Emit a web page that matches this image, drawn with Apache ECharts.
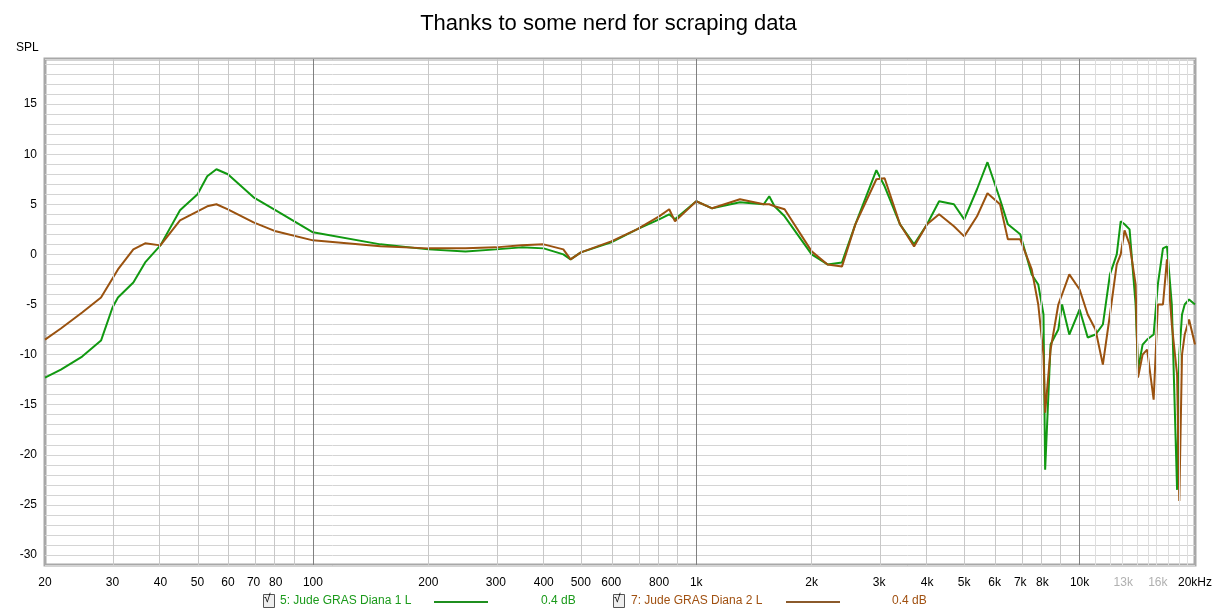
<!DOCTYPE html>
<html>
<head>
<meta charset="utf-8">
<script src="https://cdn.jsdelivr.net/npm/echarts@6/dist/echarts.min.js"></script>
<style>
  html, body { margin: 0; padding: 0; background: #fff; }
  #chart { width: 1217px; height: 616px; }
</style>
</head>
<body>
<div id="chart"></div>
<script>
// frequencies (Hz) and levels (dB)
var freqs = [20, 22, 25, 28, 30, 31, 34, 36.5, 40, 45, 50, 53, 56, 60, 70, 80, 100, 150, 200, 250, 300, 350, 400, 450, 470, 500, 600, 700, 800, 850, 880, 1000, 1100, 1300, 1500, 1550, 1600, 1700, 2000, 2200, 2400, 2600, 2950, 3100, 3400, 3700, 4000, 4300, 4700, 5000, 5400, 5750, 6200, 6500, 7000, 7500, 7800, 8050, 8130, 8400, 8800, 9000, 9400, 10000, 10500, 11000, 11500, 12000, 12500, 12800, 13100, 13500, 14000, 14200, 14600, 15000, 15600, 16000, 16500, 16900, 17400, 17960, 18200, 18500, 18800, 19300, 20000];
var diana1 = [-12.3, -11.5, -10.2, -8.6, -5.3, -4.3, -2.8, -0.8, 0.9, 4.4, 6.0, 7.8, 8.5, 8.0, 5.7, 4.4, 2.2, 1.0, 0.5, 0.3, 0.5, 0.7, 0.6, 0.0, -0.5, 0.2, 1.2, 2.5, 3.5, 4.0, 3.5, 5.3, 4.6, 5.2, 5.0, 5.8, 4.8, 3.8, 0.0, -1.0, -0.8, 3.0, 8.4, 6.8, 3.0, 1.0, 3.0, 5.3, 5.0, 3.5, 6.5, 9.2, 5.5, 3.0, 2.0, -2.0, -3.0, -6.0, -21.5, -9.0, -7.5, -5.0, -8.0, -5.5, -8.3, -8.0, -7.0, -2.0, 0.0, 3.3, 3.0, 2.5, -5.0, -11.5, -9.0, -8.5, -8.0, -3.0, 0.6, 0.8, -5.0, -23.5, -10.0, -6.0, -5.0, -4.5, -5.0];
var diana2 = [-8.5, -7.4, -5.8, -4.3, -2.4, -1.5, 0.5, 1.1, 0.9, 3.4, 4.3, 4.8, 5.0, 4.5, 3.2, 2.3, 1.4, 0.8, 0.6, 0.6, 0.7, 0.9, 1.0, 0.5, -0.5, 0.2, 1.3, 2.5, 3.8, 4.5, 3.3, 5.3, 4.6, 5.5, 5.0, 5.0, 4.8, 4.5, 0.3, -1.0, -1.2, 3.0, 7.5, 7.6, 3.0, 0.8, 3.0, 4.0, 2.8, 1.8, 3.8, 6.1, 5.0, 1.5, 1.5, -1.5, -5.0, -10.0, -15.8, -9.5, -5.0, -4.0, -2.0, -3.5, -6.0, -7.5, -11.0, -6.0, -1.0, 0.0, 2.4, 1.0, -3.0, -12.3, -10.0, -9.5, -14.5, -5.0, -5.0, -0.5, -7.0, -12.0, -24.6, -10.0, -8.0, -6.5, -9.0];

// tick labels on the frequency axis
var labelFreqs = [20, 30, 40, 50, 60, 70, 80, 100, 200, 300, 400, 500, 600, 800, 1000, 2000, 3000, 4000, 5000, 6000, 7000, 8000, 10000, 13000, 16000, 20000];
var labelTexts = ['20', '30', '40', '50', '60', '70', '80', '100', '200', '300', '400', '500', '600', '800', '1k', '2k', '3k', '4k', '5k', '6k', '7k', '8k', '10k', '13k', '16k', '20kHz'];
var splLabels = [-30, -25, -20, -15, -10, -5, 0, 5, 10, 15];

function lg(f) { return Math.log10(f); }

function pairs(vals) {
  return freqs.map(function(f, i) { return [lg(f), vals[i]]; });
}

// vertical grid lines
var gridLines = [];
[10, 100, 1000].forEach(function(d) {
  for (var k = 2; k <= 10; k++) {
    var f = k * d;
    if (f < 20) continue;
    var major = (f === 100 || f === 1000 || f === 10000);
    gridLines.push({ xAxis: lg(f), lineStyle: { color: major ? '#808080' : '#c8c8c8', width: 1, type: 'solid' } });
  }
});
for (var f = 11000; f < 20000; f += 1000) {
  gridLines.push({ xAxis: lg(f), lineStyle: { color: '#dedede', width: 1, type: 'solid' } });
}

var labelMap = {};
labelFreqs.forEach(function(f, i) { labelMap[lg(f).toFixed(5)] = labelTexts[i]; });

var chart = echarts.init(document.getElementById('chart'));
var option = {
  animation: false,
  title: {
    text: 'Thanks to some nerd for scraping data',
    left: 'center', top: 8,
    textStyle: { fontFamily: 'Liberation Sans', fontSize: 22, fontWeight: 'normal', color: '#000' }
  },
  grid: { left: 45, right: 22, top: 59, bottom: 51, show: true, borderColor: '#a8a8a8', borderWidth: 3, backgroundColor: '#fff' },
  xAxis: {
    type: 'value', min: lg(20), max: lg(20000),
    splitLine: { show: false },
    axisLine: { show: false },
    axisTick: { show: false },
    axisLabel: {
      customValues: labelFreqs.map(lg),
      formatter: function(v) { return labelMap[v.toFixed(5)] || ''; },
      color: function(v) { return (v > lg(11000) && v < lg(19000)) ? '#b0b0b0' : '#000'; },
      fontFamily: 'Liberation Sans Narrow, Liberation Sans', fontSize: 12, margin: 12
    }
  },
  yAxis: {
    type: 'value', min: -31, max: 19.5, interval: 1,
    splitLine: { lineStyle: { color: '#d4d4d4', width: 1 } },
    axisLine: { show: false },
    axisTick: { show: false },
    axisLabel: {
      customValues: splLabels,
      color: '#000', fontFamily: 'Liberation Sans', fontSize: 12, margin: 8
    }
  },
  graphic: [
    { type: 'text', left: 16, top: 42, style: { text: 'SPL', fontFamily: 'Liberation Sans', fontSize: 12, fill: '#000' } },
    { type: 'rect', left: 263, top: 594, shape: { width: 11, height: 13 }, style: { fill: '#eee', stroke: '#555' } },
    { type: 'text', left: 264, top: 593, style: { text: '\u221a', fontSize: 12, fill: '#000' } },
    { type: 'text', left: 280, top: 595, style: { text: '5: Jude GRAS Diana 1 L', fontFamily: 'Liberation Sans Narrow, Liberation Sans', fontSize: 12, fill: '#1a9a1a' } },
    { type: 'line', shape: { x1: 434, y1: 602, x2: 488, y2: 602 }, style: { stroke: '#1f8f1f', lineWidth: 2 } },
    { type: 'text', left: 541, top: 595, style: { text: '0.4 dB', fontFamily: 'Liberation Sans', fontSize: 12, fill: '#1a9a1a' } },
    { type: 'rect', left: 613, top: 594, shape: { width: 11, height: 13 }, style: { fill: '#eee', stroke: '#555' } },
    { type: 'text', left: 614, top: 593, style: { text: '\u221a', fontSize: 12, fill: '#000' } },
    { type: 'text', left: 631, top: 595, style: { text: '7: Jude GRAS Diana 2 L', fontFamily: 'Liberation Sans Narrow, Liberation Sans', fontSize: 12, fill: '#a05010' } },
    { type: 'line', shape: { x1: 786, y1: 602, x2: 840, y2: 602 }, style: { stroke: '#8b5a2b', lineWidth: 2 } },
    { type: 'text', left: 892, top: 595, style: { text: '0.4 dB', fontFamily: 'Liberation Sans', fontSize: 12, fill: '#a05010' } }
  ],
  series: [
    {
      name: 'grid', type: 'line', data: [], silent: true,
      markLine: { silent: true, symbol: 'none', label: { show: false }, data: gridLines, animation: false }
    },
    {
      name: '5: Jude GRAS Diana 1 L', type: 'line', data: pairs(diana1), showSymbol: false,
      lineStyle: { color: '#119911', width: 2 }, itemStyle: { color: '#119911' }
    },
    {
      name: '7: Jude GRAS Diana 2 L', type: 'line', data: pairs(diana2), showSymbol: false,
      lineStyle: { color: '#9a520f', width: 2 }, itemStyle: { color: '#9a520f' }
    }
  ]
};
chart.setOption(option);
</script>
</body>
</html>
